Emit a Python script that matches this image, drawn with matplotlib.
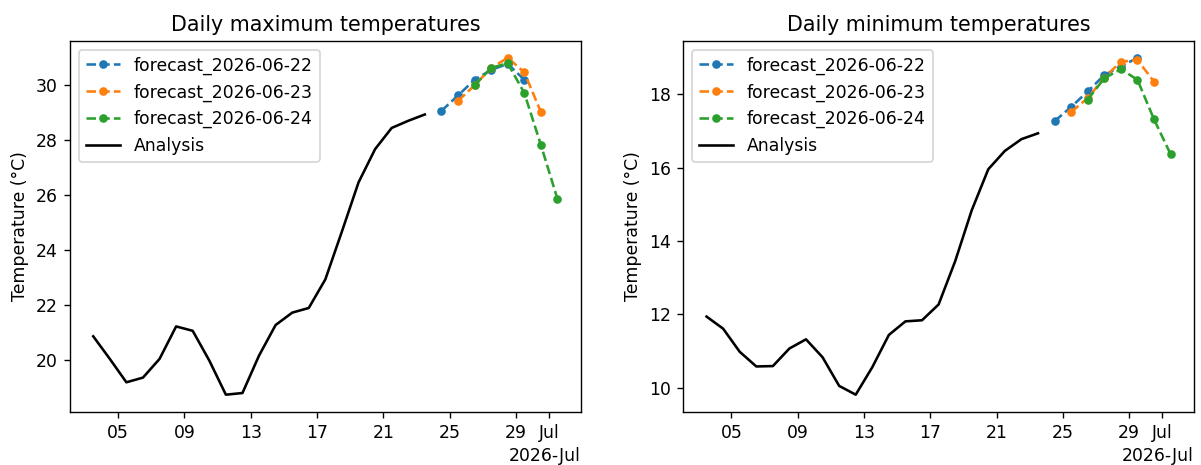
import pandas as pd
import matplotlib
matplotlib.use("Agg")
import matplotlib.pyplot as plt
import matplotlib.dates as mdates

# daily values, stamped at noon
analysis_days = pd.date_range("2026-06-03 12:00", "2026-06-23 12:00", freq="D")

tmax_analysis = [20.87, 20.05, 19.20, 19.37, 20.05, 21.23, 21.07, 19.99, 18.75, 18.81,
                 20.17, 21.28, 21.73, 21.90, 22.94, 24.68, 26.46, 27.67, 28.44, 28.70, 28.93]
tmin_analysis = [11.94, 11.61, 10.98, 10.58, 10.59, 11.07, 11.32, 10.83, 10.05, 9.81,
                 10.56, 11.44, 11.81, 11.84, 12.27, 13.45, 14.84, 15.96, 16.46, 16.78, 16.94]

forecast_names = ["forecast_2026-06-22", "forecast_2026-06-23", "forecast_2026-06-24"]
forecast_starts = ["2026-06-24 12:00", "2026-06-25 12:00", "2026-06-26 12:00"]

tmax_forecasts = [
    [29.06, 29.62, 30.19, 30.55, 30.77, 30.19],
    [29.42, 29.99, 30.62, 30.99, 30.46, 29.02],
    [29.99, 30.62, 30.79, 29.71, 27.82, 25.86],
]
tmin_forecasts = [
    [17.27, 17.66, 18.08, 18.53, 18.76, 19.00],
    [17.52, 17.90, 18.46, 18.89, 18.94, 18.35],
    [17.86, 18.44, 18.69, 18.40, 17.32, 16.37],
]


def draw_panel(ax, analysis, forecasts, title):
    for name, start, vals in zip(forecast_names, forecast_starts, forecasts):
        days = pd.date_range(start, periods=len(vals), freq="D")
        ax.plot(days, vals, "--", marker="o", markersize=4, label=name)
    ax.plot(analysis_days, analysis, color="black", label="Analysis")
    ax.set_title(title)
    ax.set_ylabel("Temperature (°C)")
    locator = mdates.AutoDateLocator()
    ax.xaxis.set_major_locator(locator)
    ax.xaxis.set_major_formatter(mdates.ConciseDateFormatter(locator))
    ax.legend(loc="upper left")


dpi = 124
fig = plt.figure(figsize=(1201 / dpi, 465 / dpi), dpi=dpi)
bottom, top = 0.115, 0.912
ax1 = fig.add_axes([0.0583, bottom, 0.4835 - 0.0583, top - bottom])
ax2 = fig.add_axes([0.569, bottom, 0.994 - 0.569, top - bottom])

draw_panel(ax1, tmax_analysis, tmax_forecasts, "Daily maximum temperatures")
draw_panel(ax2, tmin_analysis, tmin_forecasts, "Daily minimum temperatures")

fig.savefig("out.png", dpi=dpi)
